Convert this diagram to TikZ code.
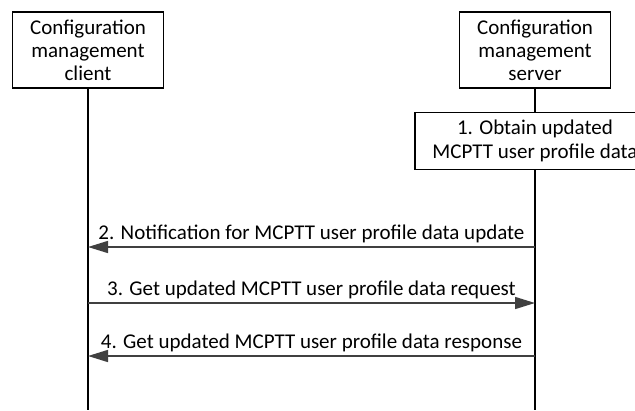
\documentclass[tikz,border=0pt]{standalone}
\usepackage{fontspec}
\setmainfont{Carlito}
\usetikzlibrary{arrows.meta, positioning}

\begin{document}
\begin{tikzpicture}[
    x=1pt,
    y=-1pt,
    entity/.style={
        draw,
        line width=1.5pt,
        align=center,
        minimum width=151pt,
        minimum height=76pt,
        inner sep=1pt,
        font=\fontsize{21}{23}\selectfont,
    },
    stepbox/.style={
        draw,
        line width=1.5pt,
        align=center,
        minimum width=240pt,
        minimum height=57pt,
        inner sep=1pt,
        font=\fontsize{21}{24}\selectfont,
    },
    lifeline/.style={
        line width=1.5pt,
    },
    message/.style={
        draw=black!75,
        line width=1.5pt,
        -{Triangle[length=20pt, width=12pt]},
    },
    msglabel/.style={
        font=\fontsize{21}{23}\selectfont,
        anchor=south,
        text=black,
        inner sep=3pt,
    }
]
    \useasboundingbox (0,0) rectangle (635,410);

    % Entities
    \node[entity] (client) at (88,50) {Configuration\\management\\client};
    \node[entity] (server) at (535,50) {Configuration\\management\\server};

    % Step 1
    \node[stepbox] (obtain) at (535,141) {1. Obtain updated\\MCPTT user profile data};

    % Lifelines
    \coordinate (client end) at (88,410);
    \coordinate (server end) at (535,410);
    \draw[lifeline] (client) -- (client end);
    \draw[lifeline] (server) -- (obtain);
    \draw[lifeline] (obtain) -- (server end);

    % Message points
    \coordinate (c2) at (88,247);
    \coordinate (s2) at (535,247);
    \coordinate (c3) at (88,303);
    \coordinate (s3) at (535,303);
    \coordinate (c4) at (88,356);
    \coordinate (s4) at (535,356);

    % Messages
    \draw[message] (s2) -- (c2) node[msglabel, midway] {2. Notification for MCPTT user profile data update};
    \draw[message] (c3) -- (s3) node[msglabel, midway] {3. Get updated MCPTT user profile data request};
    \draw[message] (s4) -- (c4) node[msglabel, midway] {4. Get updated MCPTT user profile data response};
\end{tikzpicture}
\end{document}
